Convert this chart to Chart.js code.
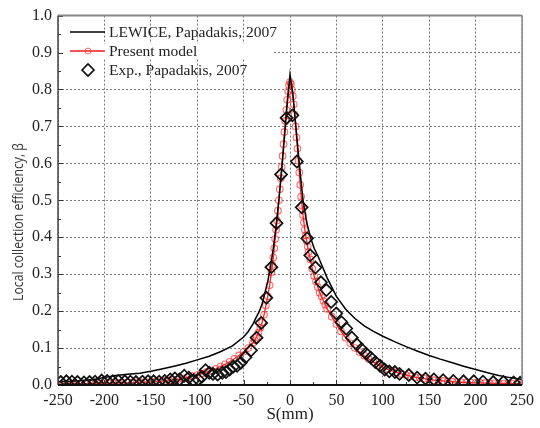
<!DOCTYPE html>
<html>
<head>
<meta charset="utf-8">
<script src="https://cdn.jsdelivr.net/npm/chart.js@4.4.1/dist/chart.umd.min.js"></script>
<style>html,body{margin:0;background:#fff}</style>
</head>
<body>
<canvas id="c" width="540" height="428"></canvas>
<script>
// LEWICE, Papadakis 2007 (black line)
const lewiceS = [-250, -237, -225, -212, -200, -190, -175, -162, -150, -137, -125, -112, -100, -87, -75, -62, -50, -45, -40, -36, -33, -30, -27, -24, -21, -18, -15, -12, -9, -6, -3, 0,
  3, 6, 10, 14, 18, 22, 26, 30, 35, 40, 45, 50, 60, 70, 80, 90, 100, 112, 125, 137, 150, 162, 175, 187, 200, 212, 225, 237, 250];
const lewiceBeta = [0.009, 0.010, 0.012, 0.015, 0.020, 0.025, 0.029, 0.032, 0.037, 0.044, 0.051, 0.059, 0.068, 0.078, 0.090, 0.106, 0.130, 0.145, 0.165, 0.185, 0.200, 0.220, 0.250, 0.280, 0.320, 0.370, 0.430, 0.500, 0.580, 0.670, 0.760, 0.840,
  0.790, 0.710, 0.600, 0.500, 0.440, 0.400, 0.370, 0.350, 0.320, 0.290, 0.265, 0.240, 0.205, 0.180, 0.160, 0.145, 0.132, 0.118, 0.104, 0.092, 0.080, 0.070, 0.060, 0.051, 0.042, 0.034, 0.026, 0.020, 0.015];

// Present model (red line + circles)
const modelS = [-250, -245, -240, -235, -230, -225, -220, -215, -210, -205, -200, -195, -190, -185, -180, -175, -170, -165, -160, -155, -150, -145, -140, -135, -130, -125, -120, -115, -110, -105, -100, -95, -90, -85, -80, -75, -70, -65, -60, -55, -50, -45,
  -40, -38, -36, -34, -32, -30, -28, -26, -24, -22,
  -20, -19, -18, -17, -16, -15, -14, -13, -12, -11, -10, -9, -8, -7, -6, -5, -4, -3, -2, -1, 0, 1, 2, 3, 4, 5, 6, 7, 8, 9, 10, 11, 12, 13, 14, 15, 16, 17, 18, 19, 20,
  22, 24, 26, 28, 30, 32, 34, 36, 38, 40,
  45, 50, 55, 60, 65, 70, 75, 80, 85, 90, 95, 100, 105, 110, 115, 120, 125, 130, 135, 140, 145, 150, 155, 160, 165, 170, 175, 180, 185, 190, 195, 200, 205, 210, 215, 220, 225, 230, 235, 240, 245, 250];
const modelBeta = [0.002, 0.002, 0.002, 0.003, 0.003, 0.003, 0.003, 0.004, 0.004, 0.004, 0.004, 0.005, 0.005, 0.005, 0.006, 0.006, 0.006, 0.007, 0.007, 0.008, 0.008, 0.009, 0.010, 0.011, 0.012, 0.014, 0.016, 0.018, 0.021, 0.024, 0.027, 0.031, 0.035, 0.039, 0.044, 0.050, 0.056, 0.063, 0.071, 0.080, 0.090, 0.100,
  0.114, 0.121, 0.130, 0.142, 0.155, 0.170, 0.190, 0.215, 0.240, 0.270,
  0.305, 0.325, 0.345, 0.370, 0.395, 0.420, 0.445, 0.472, 0.500, 0.530, 0.560, 0.590, 0.620, 0.652, 0.685, 0.715, 0.745, 0.772, 0.795, 0.812, 0.820, 0.815, 0.800, 0.782, 0.760, 0.732, 0.700, 0.670, 0.640, 0.607, 0.575, 0.542, 0.510, 0.485, 0.460, 0.440, 0.420, 0.405, 0.390, 0.375, 0.360,
  0.340, 0.315, 0.295, 0.280, 0.265, 0.250, 0.240, 0.228, 0.217, 0.206,
  0.185, 0.165, 0.145, 0.128, 0.113, 0.100, 0.089, 0.079, 0.070, 0.062, 0.055, 0.049, 0.043, 0.038, 0.034, 0.030, 0.027, 0.024, 0.021, 0.019, 0.017, 0.015, 0.013, 0.012, 0.011, 0.010, 0.009, 0.008, 0.0075, 0.007, 0.0065, 0.006, 0.0055, 0.005, 0.005, 0.0045, 0.004, 0.004, 0.0035, 0.0035, 0.003, 0.003];

// Exp., Papadakis 2007 (diamonds)
const expS = [-247, -241, -235, -229, -222, -216, -210, -203, -197, -191, -185, -178, -172, -166, -159, -153, -147, -141, -135, -129, -124, -119, -114, -109, -104, -99, -95, -91, -87, -83, -78, -73, -69, -65, -61, -57, -53, -48, -42, -36, -31, -25.5, -20, -14.5, -9.6, -3.7,
  2.6, 7.4, 12.6, 18.5, 21.8, 27.4, 33.3, 39.2, 44.4, 49.9, 55.5, 60.6, 66.6, 72, 77, 82, 87, 92, 97, 102, 107, 113, 118, 128, 137, 146, 155, 165, 176, 187, 198, 208, 219, 230, 241, 248];
const expBeta = [0.008, 0.010, 0.009, 0.008, 0.007, 0.008, 0.009, 0.012, 0.011, 0.010, 0.011, 0.010, 0.009, 0.008, 0.009, 0.010, 0.010, 0.009, 0.011, 0.015, 0.018, 0.015, 0.025, 0.020, 0.013, 0.015, 0.022, 0.040, 0.033, 0.030, 0.028, 0.033, 0.035, 0.042, 0.050, 0.052, 0.060, 0.075, 0.094, 0.128, 0.168, 0.236, 0.319, 0.438, 0.570, 0.723,
  0.730, 0.605, 0.481, 0.397, 0.351, 0.318, 0.278, 0.257, 0.225, 0.194, 0.170, 0.153, 0.128, 0.110, 0.097, 0.085, 0.074, 0.062, 0.052, 0.042, 0.037, 0.035, 0.030, 0.027, 0.020, 0.017, 0.015, 0.013, 0.011, 0.010, 0.010, 0.009, 0.008, 0.008, 0.007, 0.006];

const legendLabels = ['LEWICE, Papadakis, 2007', 'Present model', 'Exp., Papadakis, 2007'];

const SERIF = '"Liberation Serif", "Times New Roman", serif';
const pairs = (xs, ys) => xs.map((x, i) => ({x, y: ys[i]}));

const decor = {
  id: 'decor',
  beforeDatasetsDraw(chart) {
    const {ctx, chartArea: a} = chart;
    // legend area hides the 0.9 grid line
    ctx.save();
    ctx.fillStyle = '#fff';
    ctx.fillRect(a.left + 1, 44, 214, 15);
    ctx.restore();
  },
  afterDraw(chart) {
    const {ctx, chartArea: a, scales: {x, y}} = chart;
    ctx.save();
    // inward ticks
    ctx.strokeStyle = '#333';
    ctx.lineWidth = 1;
    for (let v = -250; v <= 250; v += 25) {
      const px = Math.round(x.getPixelForValue(v)) + 0.5;
      const len = v % 50 === 0 ? 5 : 3;
      ctx.beginPath(); ctx.moveTo(px, a.bottom); ctx.lineTo(px, a.bottom - len); ctx.stroke();
    }
    for (let i = 0; i <= 20; i++) {
      const py = Math.round(y.getPixelForValue(i * 0.05)) + 0.5;
      const len = i % 2 === 0 ? 5 : 3;
      ctx.beginPath(); ctx.moveTo(a.left, py); ctx.lineTo(a.left + len, py); ctx.stroke();
    }
    // frame
    ctx.strokeStyle = '#888'; ctx.lineWidth = 2;
    ctx.beginPath(); ctx.moveTo(a.left, a.top); ctx.lineTo(a.right, a.top); ctx.stroke();
    ctx.lineWidth = 1.5;
    ctx.beginPath(); ctx.moveTo(a.right, a.top); ctx.lineTo(a.right, a.bottom); ctx.stroke();
    ctx.strokeStyle = '#444';
    ctx.beginPath(); ctx.moveTo(a.left, a.top); ctx.lineTo(a.left, a.bottom); ctx.stroke();
    ctx.strokeStyle = '#111'; ctx.lineWidth = 2;
    ctx.beginPath(); ctx.moveTo(a.left, a.bottom); ctx.lineTo(a.right, a.bottom); ctx.stroke();

    // legend
    const rows = [32, 51, 70];
    ctx.lineWidth = 1.5; ctx.strokeStyle = '#000';
    ctx.beginPath(); ctx.moveTo(70, rows[0]); ctx.lineTo(105, rows[0]); ctx.stroke();
    ctx.strokeStyle = '#ff1a1a'; ctx.lineWidth = 1.3;
    ctx.beginPath(); ctx.moveTo(70, rows[1]); ctx.lineTo(105, rows[1]); ctx.stroke();
    ctx.strokeStyle = 'rgba(255,40,40,0.7)'; ctx.lineWidth = 1;
    ctx.beginPath(); ctx.arc(88, rows[1], 3, 0, Math.PI * 2); ctx.stroke();
    ctx.strokeStyle = '#111'; ctx.lineWidth = 1.7;
    ctx.beginPath();
    ctx.moveTo(82, rows[2]); ctx.lineTo(88, rows[2] - 6); ctx.lineTo(94, rows[2]); ctx.lineTo(88, rows[2] + 6);
    ctx.closePath(); ctx.stroke();
    ctx.fillStyle = '#222';
    ctx.font = '15.5px ' + SERIF;
    ctx.textBaseline = 'middle';
    ctx.textAlign = 'left';
    legendLabels.forEach((t, i) => ctx.fillText(t, 109, rows[i] + 1));

    // axis titles
    ctx.font = '17px ' + SERIF;
    ctx.textAlign = 'center';
    ctx.fillText('S(mm)', (a.left + a.right) / 2, 415);
    const yTitle = 'Local collection efficiency, β';
    ctx.font = '14.5px "Open Sans", Arial, sans-serif';
    const w = ctx.measureText(yTitle).width;
    ctx.fillStyle = '#333';
    ctx.translate(18.5, 222);
    ctx.rotate(-Math.PI / 2);
    ctx.scale(158 / w, 1);
    ctx.fillText(yTitle, 0, 0);
    ctx.restore();
  }
};

new Chart(document.getElementById('c'), {
  type: 'line',
  data: {
    datasets: [{
      label: legendLabels[2],
      data: pairs(expS, expBeta),
      showLine: false,
      pointStyle: 'rectRot',
      pointRadius: 6,
      pointBorderWidth: 1.7,
      pointBorderColor: '#111',
      pointBackgroundColor: 'rgba(0,0,0,0)',
      order: 0
    }, {
      label: legendLabels[0],
      data: pairs(lewiceS, lewiceBeta),
      borderColor: '#000',
      borderWidth: 1.5,
      pointRadius: 0,
      order: 1
    }, {
      label: legendLabels[1],
      data: pairs(modelS, modelBeta),
      borderColor: '#ff1a1a',
      borderWidth: 1.3,
      pointRadius: 3.3,
      pointBorderWidth: 1.1,
      pointBorderColor: 'rgba(255,40,40,0.7)',
      pointBackgroundColor: 'rgba(0,0,0,0)',
      order: 2
    }]
  },
  options: {
    responsive: false,
    animation: false,
    layout: { padding: { top: 15, right: 16, left: 0, bottom: 0 } },
    scales: {
      x: {
        type: 'linear',
        min: -250,
        max: 250,
        afterFit: s => { s.height = 43; },
        ticks: { stepSize: 50, padding: 6, color: '#222', font: { family: SERIF, size: 16 } },
        grid: { color: '#777', drawTicks: false },
        border: { display: false, dash: [2, 2] }
      },
      y: {
        min: 0,
        max: 1,
        afterFit: s => { s.width = 58; },
        ticks: { stepSize: 0.1, padding: 6, color: '#222', font: { family: SERIF, size: 16 }, callback: v => v.toFixed(1) },
        grid: { color: '#777', drawTicks: false },
        border: { display: false, dash: [2, 2] }
      }
    },
    plugins: {
      legend: { display: false },
      tooltip: { enabled: false }
    }
  },
  plugins: [decor]
});
</script>
</body>
</html>
